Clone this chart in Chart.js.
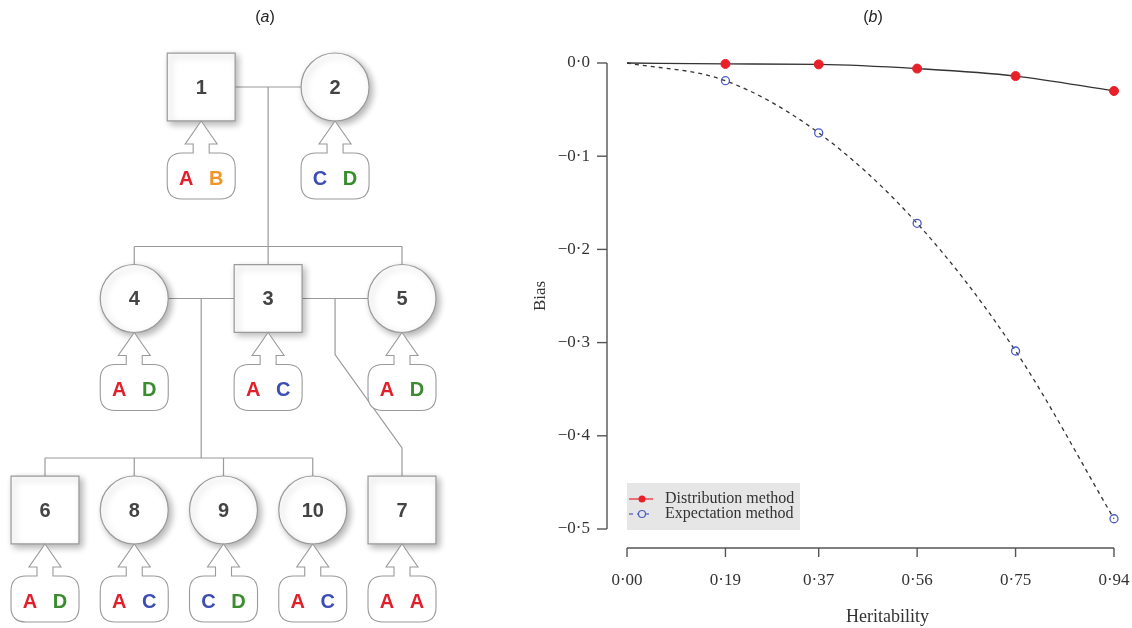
<!DOCTYPE html>
<html>
<head>
<meta charset="utf-8">
<script src="https://cdn.jsdelivr.net/npm/chart.js@4.4.1/dist/chart.umd.min.js"></script>
<style>
  html, body { margin: 0; padding: 0; background: #fff; }
  #page { position: relative; width: 1132px; height: 628px; overflow: hidden; }
  .panel { position: absolute; top: 0; height: 628px; }
  #pedWrap { left: 0; width: 540px; }
  #biasWrap { left: 520px; width: 612px; }
  .tag { position: absolute; top: 8px; font: 16px "Liberation Sans", Arial, sans-serif; color: #222; transform: translateX(-50%); }
</style>
</head>
<body>
<div id="page">
  <div class="panel" id="pedWrap"><canvas id="pedigree"></canvas></div>
  <div class="panel" id="biasWrap"><canvas id="bias"></canvas></div>
  <div class="tag" style="left:265px">(<i>a</i>)</div>
  <div class="tag" style="left:873px">(<i>b</i>)</div>
</div>
<script>
// ---- panel (a): pedigree ----
const ids = ['1', '2', '3', '4', '5', '6', '7', '8', '9', '10'];
const sex = ['M', 'F', 'M', 'F', 'F', 'M', 'M', 'F', 'F', 'F'];
const generation = [0, 0, 1, 1, 1, 2, 2, 2, 2, 2];
const column = [1.75, 3.25, 2.5, 1, 4, 0, 4, 1, 2, 3];
const genotypes = [['A', 'B'], ['C', 'D'], ['A', 'C'], ['A', 'D'], ['A', 'D'], ['A', 'D'], ['A', 'A'], ['A', 'C'], ['C', 'D'], ['A', 'C']];
const matings = [['1', '2'], ['4', '3'], ['3', '5']];
const offspring = [['4', '3', '5'], ['6', '8', '9', '10'], ['7']];
const alleleColors = { A: '#e0202a', B: '#f0952a', C: '#3c4db4', D: '#3a8c2e' };

// ---- panel (b): bias curves ----
const heritability = [0, 0.19, 0.37, 0.56, 0.75, 0.94];
const distributionBias = [0, -0.001, -0.0015, -0.006, -0.014, -0.030];
const expectationBias = [0, -0.019, -0.075, -0.172, -0.309, -0.489];
const biasTicks = [0, -0.1, -0.2, -0.3, -0.4, -0.5];
const seriesNames = ['Distribution method', 'Expectation method'];

const LINE_GREY = '#9a9a9a';
const HALF = 34; // half size of a pedigree symbol, px
const serif = '"Liberation Serif", "DejaVu Serif", serif';
const sans = '"Liberation Sans", Arial, sans-serif';

const nodePx = (chart, id) => {
    const i = ids.indexOf(id);
    return { x: chart.scales.x.getPixelForValue(column[i]), y: chart.scales.y.getPixelForValue(generation[i]) };
};

function polyline(ctx, pts) {
    ctx.beginPath();
    ctx.moveTo(pts[0][0], pts[0][1]);
    for (let k = 1; k < pts.length; k++) ctx.lineTo(pts[k][0], pts[k][1]);
    ctx.stroke();
}

// genotype bubble hanging under a symbol, tip at (cx, top)
function drawCallout(ctx, cx, top, alleles) {
    const w = 34, bTop = top + 32, bBot = top + 78, r = 15;
    ctx.beginPath();
    ctx.moveTo(cx, top);
    ctx.lineTo(cx + 16, top + 23);
    ctx.lineTo(cx + 8, top + 23);
    ctx.lineTo(cx + 8, bTop);
    ctx.lineTo(cx + w - r, bTop);
    ctx.quadraticCurveTo(cx + w, bTop, cx + w, bTop + r);
    ctx.lineTo(cx + w, bBot - r);
    ctx.quadraticCurveTo(cx + w, bBot, cx + w - r, bBot);
    ctx.lineTo(cx - w + r, bBot);
    ctx.quadraticCurveTo(cx - w, bBot, cx - w, bBot - r);
    ctx.lineTo(cx - w, bTop + r);
    ctx.quadraticCurveTo(cx - w, bTop, cx - w + r, bTop);
    ctx.lineTo(cx - 8, bTop);
    ctx.lineTo(cx - 8, top + 23);
    ctx.lineTo(cx - 16, top + 23);
    ctx.closePath();
    ctx.fillStyle = '#fff';
    ctx.fill();
    ctx.strokeStyle = LINE_GREY;
    ctx.lineWidth = 1.1;
    ctx.stroke();

    ctx.font = 'bold 20px ' + sans;
    ctx.textAlign = 'center';
    ctx.textBaseline = 'middle';
    ctx.fillStyle = alleleColors[alleles[0]];
    ctx.fillText(alleles[0], cx - 15, top + 58);
    ctx.fillStyle = alleleColors[alleles[1]];
    ctx.fillText(alleles[1], cx + 15, top + 58);
}

const pedigreePlugin = {
    id: 'pedigree',
    beforeDatasetsDraw(chart) {
        const ctx = chart.ctx;
        ctx.save();
        ctx.strokeStyle = LINE_GREY;
        ctx.lineWidth = 1.2;
        matings.forEach((m, k) => {
            const a = nodePx(chart, m[0]);
            const b = nodePx(chart, m[1]);
            const left = a.x < b.x ? a : b;
            const right = a.x < b.x ? b : a;
            polyline(ctx, [[left.x + HALF, left.y], [right.x - HALF, right.y]]);
            const dropX = (left.x + right.x) / 2;
            const kids = offspring[k].map(id => nodePx(chart, id));
            const sibY = kids[0].y - HALF - 18;
            if (kids.length > 1) {
                const xs = kids.map(p => p.x);
                polyline(ctx, [[dropX, left.y], [dropX, sibY]]);
                polyline(ctx, [[Math.min(...xs), sibY], [Math.max(...xs), sibY]]);
                kids.forEach(p => polyline(ctx, [[p.x, sibY], [p.x, p.y - HALF]]));
            } else {
                const p = kids[0];
                polyline(ctx, [[dropX, left.y], [dropX, left.y + 56], [p.x, sibY - 10], [p.x, p.y - HALF]]);
            }
        });
        ctx.restore();
    },
    beforeDatasetDraw(chart) {
        const ctx = chart.ctx;
        ctx.shadowColor = 'rgba(0, 0, 0, 0.3)';
        ctx.shadowBlur = 7;
        ctx.shadowOffsetX = 3;
        ctx.shadowOffsetY = 3;
    },
    afterDatasetDraw(chart) {
        const ctx = chart.ctx;
        ctx.shadowColor = 'rgba(0, 0, 0, 0)';
        ctx.shadowBlur = 0;
        ctx.shadowOffsetX = 0;
        ctx.shadowOffsetY = 0;
    },
    afterDatasetsDraw(chart) {
        const ctx = chart.ctx;
        ctx.save();
        ids.forEach((id, i) => {
            const p = nodePx(chart, id);
            ctx.font = 'bold 20px ' + sans;
            ctx.fillStyle = '#444';
            ctx.textAlign = 'center';
            ctx.textBaseline = 'middle';
            ctx.fillText(id, p.x, p.y + 1);
            drawCallout(ctx, p.x, p.y + HALF, genotypes[i]);
        });
        ctx.restore();
    }
};

const nodesOf = s => ids.map((id, i) => ({ x: column[i], y: generation[i], id, s: sex[i] })).filter(d => d.s === s);

new Chart(document.getElementById('pedigree'), {
    type: 'scatter',
    data: {
        datasets: [
            { label: 'male', data: nodesOf('M'), pointStyle: 'rect', pointRadius: 48,
              backgroundColor: '#fff', borderColor: LINE_GREY, borderWidth: 1.2, clip: false },
            { label: 'female', data: nodesOf('F'), pointStyle: 'circle', pointRadius: HALF,
              backgroundColor: '#fff', borderColor: LINE_GREY, borderWidth: 1.2, clip: false }
        ]
    },
    options: {
        responsive: true,
        maintainAspectRatio: false,
        animation: false,
        events: [],
        layout: { padding: 0, autoPadding: false },
        plugins: { legend: { display: false }, tooltip: { enabled: false } },
        scales: {
            // column 0 sits at 45px, column 4 at 402px; generation 0 at 87px, 2 at 510px
            x: { display: false, min: -45 / 89.25, max: (540 - 45) / 89.25 },
            y: { display: false, reverse: true, min: -87 / 211.5, max: (628 - 87) / 211.5 }
        }
    },
    plugins: [pedigreePlugin]
});

// ---- bias chart ----
const fmt = (v, d) => (v < -1e-9 ? '\u2212' : '') + Math.abs(v).toFixed(d).replace('.', '\u00b7');

const rAxesPlugin = {
    id: 'rAxes',
    afterDraw(chart) {
        const { ctx, chartArea, scales: { x, y } } = chart;
        ctx.save();
        ctx.strokeStyle = '#555';
        ctx.lineWidth = 1.4;
        // y axis, offset left of the plot
        const ax = chartArea.left - 20;
        polyline(ctx, [[ax, y.getPixelForValue(biasTicks[0])], [ax, y.getPixelForValue(biasTicks[biasTicks.length - 1])]]);
        biasTicks.forEach(v => polyline(ctx, [[ax - 10, y.getPixelForValue(v)], [ax, y.getPixelForValue(v)]]));
        // x axis, offset below the plot
        const ay = chartArea.bottom + 19;
        polyline(ctx, [[x.getPixelForValue(heritability[0]), ay], [x.getPixelForValue(heritability[heritability.length - 1]), ay]]);
        heritability.forEach(v => polyline(ctx, [[x.getPixelForValue(v), ay], [x.getPixelForValue(v), ay + 9]]));

        // x axis title, centred on the plot region as R does
        ctx.fillStyle = '#333';
        ctx.font = '18px ' + serif;
        ctx.textAlign = 'center';
        ctx.textBaseline = 'middle';
        ctx.fillText('Heritability', (chartArea.left + chartArea.right) / 2 + 17, chart.height - 11);

        // legend box
        const bx = chartArea.left, by = chartArea.bottom - 46, bw = 173, bh = 47;
        ctx.fillStyle = '#e6e6e6';
        ctx.fillRect(bx, by, bw, bh);
        ctx.font = '16px ' + serif;
        ctx.textBaseline = 'middle';
        ctx.textAlign = 'left';
        chart.data.datasets.forEach((ds, i) => {
            const ly = by + 16 + i * 15;
            ctx.strokeStyle = ds.pointBorderColor;
            ctx.lineWidth = 1.2;
            ctx.setLineDash(ds.borderDash || []);
            polyline(ctx, [[bx + 2, ly], [bx + 26, ly]]);
            ctx.setLineDash([]);
            ctx.beginPath();
            ctx.arc(bx + 15, ly, 3.5, 0, Math.PI * 2);
            if (ds.pointBackgroundColor !== 'transparent') {
                ctx.fillStyle = ds.pointBackgroundColor;
                ctx.fill();
            } else {
                ctx.fillStyle = '#e6e6e6';
                ctx.fill();
                ctx.stroke();
            }
            ctx.fillStyle = '#333';
            ctx.fillText(ds.label, bx + 38, ly);
        });
        ctx.restore();
    }
};

const hidden0 = [0, 4.5, 4.5, 4.5, 4.5, 4.5];

new Chart(document.getElementById('bias'), {
    type: 'line',
    data: {
        datasets: [
            {
                label: seriesNames[0],
                data: heritability.map((h, i) => ({ x: h, y: distributionBias[i] })),
                borderColor: '#333',
                borderWidth: 1.3,
                pointRadius: hidden0,
                pointBackgroundColor: '#e8202a',
                pointBorderColor: '#e8202a',
                pointBorderWidth: 1,
                cubicInterpolationMode: 'monotone',
                clip: false
            },
            {
                label: seriesNames[1],
                data: heritability.map((h, i) => ({ x: h, y: expectationBias[i] })),
                borderColor: '#333',
                borderWidth: 1.3,
                borderDash: [4, 4],
                pointRadius: [0, 4, 4, 4, 4, 4],
                pointBackgroundColor: 'transparent',
                pointBorderColor: '#4a5cc4',
                pointBorderWidth: 1.3,
                cubicInterpolationMode: 'monotone',
                clip: false
            }
        ]
    },
    options: {
        responsive: true,
        maintainAspectRatio: false,
        animation: false,
        events: [],
        layout: { padding: { top: 63, right: 18, left: 0, bottom: 0 }, autoPadding: false },
        plugins: { legend: { display: false }, tooltip: { enabled: false } },
        scales: {
            x: {
                type: 'linear',
                min: heritability[0],
                max: heritability[heritability.length - 1],
                afterBuildTicks: s => { s.ticks = heritability.map(v => ({ value: v })); },
                afterFit: s => { s.height = 99; s.paddingLeft = 0; s.paddingRight = 0; },
                grid: { display: false, drawTicks: false },
                border: { display: false },
                ticks: {
                    padding: 41,
                    maxRotation: 0,
                    autoSkip: false,
                    color: '#333',
                    font: { family: serif, size: 17 },
                    callback: v => fmt(v, 2)
                }
            },
            y: {
                type: 'linear',
                min: biasTicks[biasTicks.length - 1],
                max: biasTicks[0],
                afterBuildTicks: s => { s.ticks = biasTicks.map(v => ({ value: v })); },
                afterFit: s => { s.width = 107; s.paddingTop = 0; s.paddingBottom = 0; },
                grid: { display: false, drawTicks: false },
                border: { display: false },
                ticks: {
                    padding: 37,
                    color: '#333',
                    font: { family: serif, size: 17 },
                    callback: v => fmt(v, 1)
                },
                title: {
                    display: true,
                    text: 'Bias',
                    color: '#333',
                    font: { family: serif, size: 17 },
                    padding: { top: 10, bottom: 0 }
                }
            }
        }
    },
    plugins: [rAxesPlugin]
});
</script>
</body>
</html>
